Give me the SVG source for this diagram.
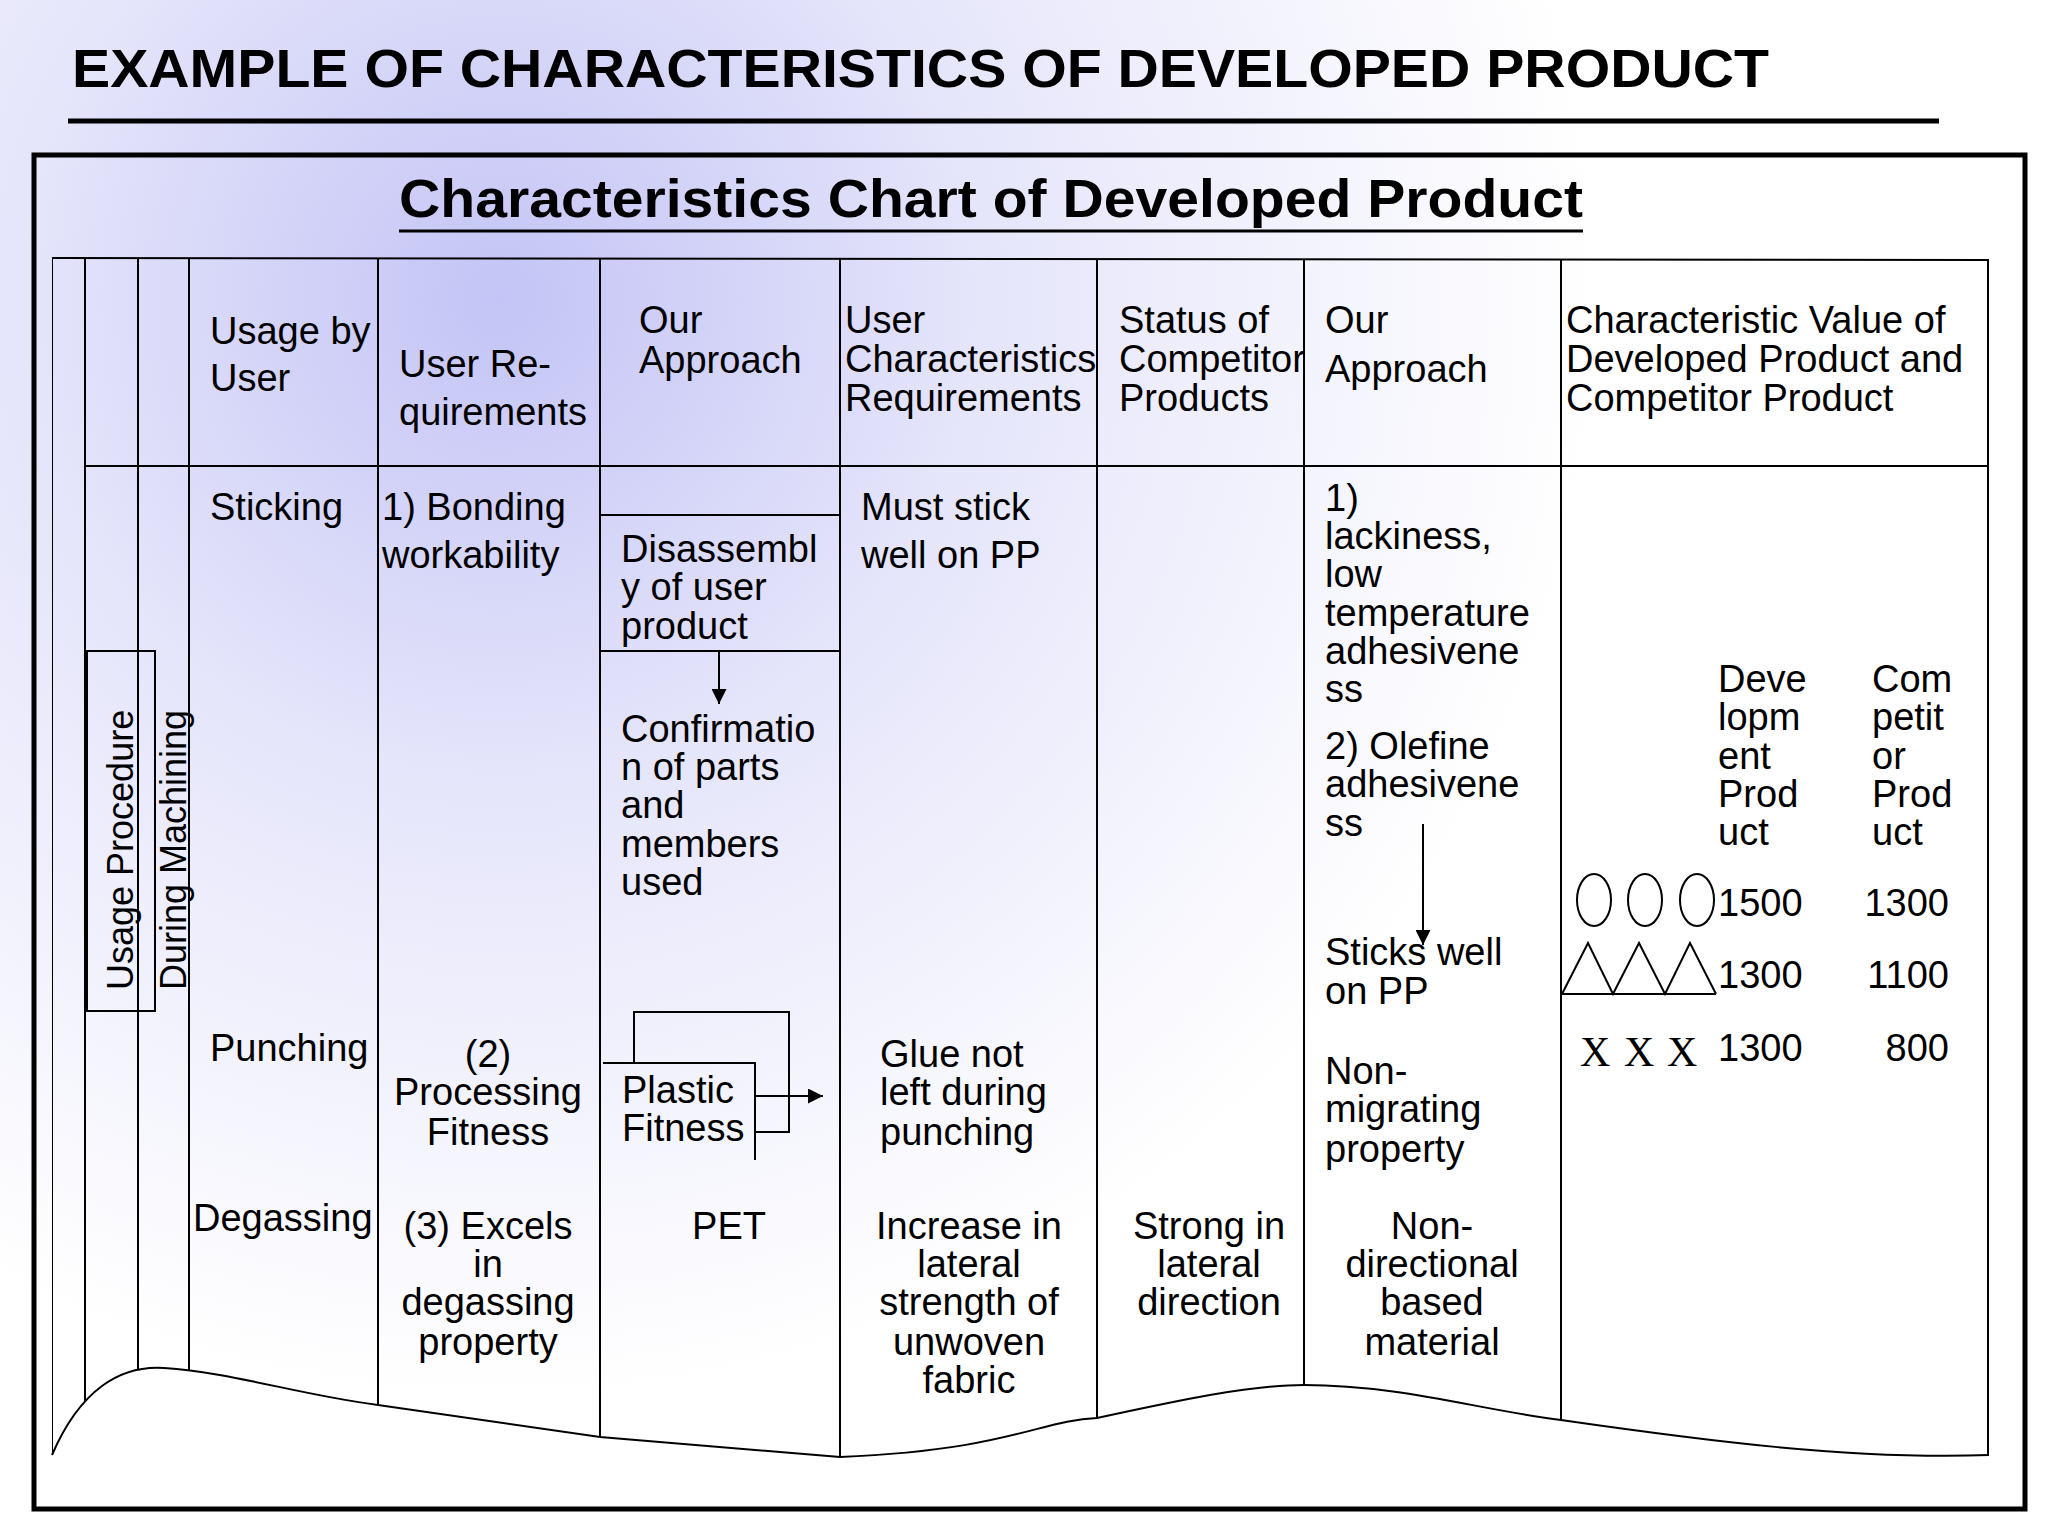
<svg xmlns="http://www.w3.org/2000/svg" width="2048" height="1536" viewBox="0 0 2048 1536">
<defs>
<radialGradient id="bg" cx="500" cy="300" r="1100" gradientUnits="userSpaceOnUse">
<stop offset="0" stop-color="#c4c4f6"/><stop offset="0.45" stop-color="#e6e6fb"/><stop offset="1" stop-color="#ffffff"/>
</radialGradient>
<clipPath id="tbl"><path d="M52,258 L1989,260 L1989,1455 C1850,1460 1700,1440 1561,1420 C1480,1410 1400,1385 1304,1385 C1250,1385 1180,1400 1097,1418 C1040,1420 1010,1450 840,1457 L600,1437 L378,1405 C300,1395 230,1372 164,1368 C120,1365 80,1390 52,1455 Z"/></clipPath>
<marker id="ah" viewBox="0 0 10 10" refX="10" refY="5" markerWidth="15" markerHeight="15" markerUnits="userSpaceOnUse" orient="auto"><path d="M0,0 L10,5 L0,10 Z" fill="#000"/></marker>
</defs>
<style>
text{font-family:"Liberation Sans",Arial,sans-serif;font-size:38px;fill:#000}
.c{text-anchor:middle}.e{text-anchor:end}
.ln{stroke:#000;stroke-width:2;fill:none}
.b{font-weight:bold}
</style>
<rect width="2048" height="1536" fill="url(#bg)"/>
<text x="72" y="87" class="b" style="font-size:54px" textLength="1697" lengthAdjust="spacingAndGlyphs">EXAMPLE OF CHARACTERISTICS OF DEVELOPED PRODUCT</text>
<line x1="68" y1="121" x2="1939" y2="121" stroke="#000" stroke-width="5"/>
<rect x="34" y="155" width="1991" height="1354" fill="none" stroke="#000" stroke-width="5"/>
<text x="399" y="217" class="b" style="font-size:54px" textLength="1184" lengthAdjust="spacingAndGlyphs">Characteristics Chart of Developed Product</text>
<line x1="399" y1="231" x2="1583" y2="231" stroke="#000" stroke-width="3"/>
<g id="grid">
<g clip-path="url(#tbl)" class="ln">
<line x1="52" y1="258" x2="52" y2="1500"/>
<line x1="85" y1="258" x2="85" y2="1500"/>
<line x1="138" y1="258" x2="138" y2="1500"/>
<line x1="189" y1="258" x2="189" y2="1500"/>
<line x1="378" y1="258" x2="378" y2="1500"/>
<line x1="600" y1="258" x2="600" y2="1500"/>
<line x1="840" y1="258" x2="840" y2="1500"/>
<line x1="1097" y1="258" x2="1097" y2="1500"/>
<line x1="1304" y1="258" x2="1304" y2="1500"/>
<line x1="1561" y1="258" x2="1561" y2="1500"/>
<line x1="1988" y1="258" x2="1988" y2="1500"/>
</g>
<line class="ln" x1="52" y1="258" x2="1989" y2="260"/>
<line class="ln" x1="85" y1="466" x2="1989" y2="466"/>
<path class="ln" d="M52,1455 C80,1390 120,1365 164,1368 C230,1372 300,1395 378,1405 L600,1437 L840,1457 C1010,1450 1040,1420 1097,1418 C1180,1400 1250,1385 1304,1385 C1400,1385 1480,1410 1561,1420 C1700,1440 1850,1460 1989,1455"/>
</g>
<g id="vbox">
<rect x="87" y="651" width="68" height="360" fill="none" stroke="#000" stroke-width="2"/>
<text transform="translate(133,990) rotate(-90)" style="font-size:36px">Usage Procedure</text>
<text transform="translate(186,990) rotate(-90)" style="font-size:36px">During Machining</text>
</g>
<g id="headers">
<text x="210" y="344">Usage by</text><text x="210" y="391">User</text>
<text x="399" y="377">User Re-</text><text x="399" y="425">quirements</text>
<text x="639" y="333">Our</text><text x="639" y="373">Approach</text>
<text x="845" y="333">User</text><text x="845" y="372">Characteristics</text><text x="845" y="411">Requirements</text>
<text x="1119" y="333">Status of</text><text x="1119" y="372">Competitor</text><text x="1119" y="411">Products</text>
<text x="1325" y="333">Our</text><text x="1325" y="382">Approach</text>
<text x="1566" y="333">Characteristic Value of</text><text x="1566" y="372">Developed Product and</text><text x="1566" y="411">Competitor Product</text>
</g>
<g id="usage">
<text x="210" y="520">Sticking</text>
<text x="210" y="1061">Punching</text>
<text x="193" y="1231">Degassing</text>
</g>
<g id="requirements">
<text x="382" y="520">1) Bonding</text><text x="382" y="568">workability</text>
<text x="488" y="1067" class="c">(2)</text><text x="488" y="1105" class="c">Processing</text><text x="488" y="1145" class="c">Fitness</text>
<text x="488" y="1239" class="c">(3) Excels</text><text x="488" y="1277" class="c">in</text><text x="488" y="1315" class="c">degassing</text><text x="488" y="1355" class="c">property</text>
</g>
<g id="approach1">
<line class="ln" x1="600" y1="515" x2="840" y2="515"/>
<line class="ln" x1="600" y1="651" x2="840" y2="651"/>
<text x="621" y="562">Disassembl</text><text x="621" y="600">y of user</text><text x="621" y="639">product</text>
<text x="621" y="742">Confirmatio</text><text x="621" y="780">n of parts</text><text x="621" y="818">and</text><text x="621" y="857">members</text><text x="621" y="895">used</text>
<path class="ln" d="M603,1063 L755,1063 L755,1160"/>
<path class="ln" d="M634,1063 L634,1012 L789,1012 L789,1132 L755,1132"/>
<text x="622" y="1103">Plastic</text><text x="622" y="1141">Fitness</text>
<text x="729" y="1239" class="c">PET</text>
</g>
<g id="userchar">
<text x="861" y="520">Must stick</text><text x="861" y="568">well on PP</text>
<text x="880" y="1067">Glue not</text><text x="880" y="1105">left during</text><text x="880" y="1145">punching</text>
<text x="969" y="1239" class="c">Increase in</text><text x="969" y="1277" class="c">lateral</text><text x="969" y="1315" class="c">strength of</text><text x="969" y="1355" class="c">unwoven</text><text x="969" y="1393" class="c">fabric</text>
</g>
<g id="competitor">
<text x="1209" y="1239" class="c">Strong in</text><text x="1209" y="1277" class="c">lateral</text><text x="1209" y="1315" class="c">direction</text>
</g>
<g id="approach2">
<text x="1325" y="511">1)</text><text x="1325" y="549">lackiness,</text><text x="1325" y="587">low</text><text x="1325" y="626">temperature</text><text x="1325" y="664">adhesivene</text><text x="1325" y="702">ss</text>
<text x="1325" y="759">2) Olefine</text><text x="1325" y="797">adhesivene</text><text x="1325" y="836">ss</text>
<text x="1325" y="965">Sticks well</text><text x="1325" y="1004">on PP</text>
<text x="1325" y="1084">Non-</text><text x="1325" y="1122">migrating</text><text x="1325" y="1162">property</text>
<text x="1432" y="1239" class="c">Non-</text><text x="1432" y="1277" class="c">directional</text><text x="1432" y="1315" class="c">based</text><text x="1432" y="1355" class="c">material</text>
</g>
<g id="values">
<text x="1718" y="692">Deve</text><text x="1718" y="730">lopm</text><text x="1718" y="769">ent</text><text x="1718" y="807">Prod</text><text x="1718" y="845">uct</text>
<text x="1872" y="692">Com</text><text x="1872" y="730">petit</text><text x="1872" y="769">or</text><text x="1872" y="807">Prod</text><text x="1872" y="845">uct</text>
<g class="ln"><ellipse cx="1594" cy="900" rx="17" ry="26"/><ellipse cx="1645" cy="900" rx="17" ry="26"/><ellipse cx="1697" cy="900" rx="17" ry="26"/>
<path d="M1562,994 L1716,994 M1562,994 L1588,943 L1613,994 L1639,943 L1665,994 L1690,943 L1716,994"/></g>
<text x="1580" y="1066" style="font-family:'Liberation Serif',serif;font-size:42px">X</text>
<text x="1624" y="1066" style="font-family:'Liberation Serif',serif;font-size:42px">X</text>
<text x="1667" y="1066" style="font-family:'Liberation Serif',serif;font-size:42px">X</text>
<text x="1718" y="916">1500</text><text x="1718" y="988">1300</text><text x="1718" y="1061">1300</text>
<text x="1949" y="916" class="e">1300</text><text x="1949" y="988" class="e">1100</text><text x="1949" y="1061" class="e">800</text>
</g>
<g id="connectors" class="ln">
<line x1="719" y1="652" x2="719" y2="704" marker-end="url(#ah)"/>
<line x1="1423" y1="824" x2="1423" y2="945" marker-end="url(#ah)"/>
<line x1="755" y1="1096" x2="823" y2="1096" marker-end="url(#ah)"/>
</g>
</svg>
